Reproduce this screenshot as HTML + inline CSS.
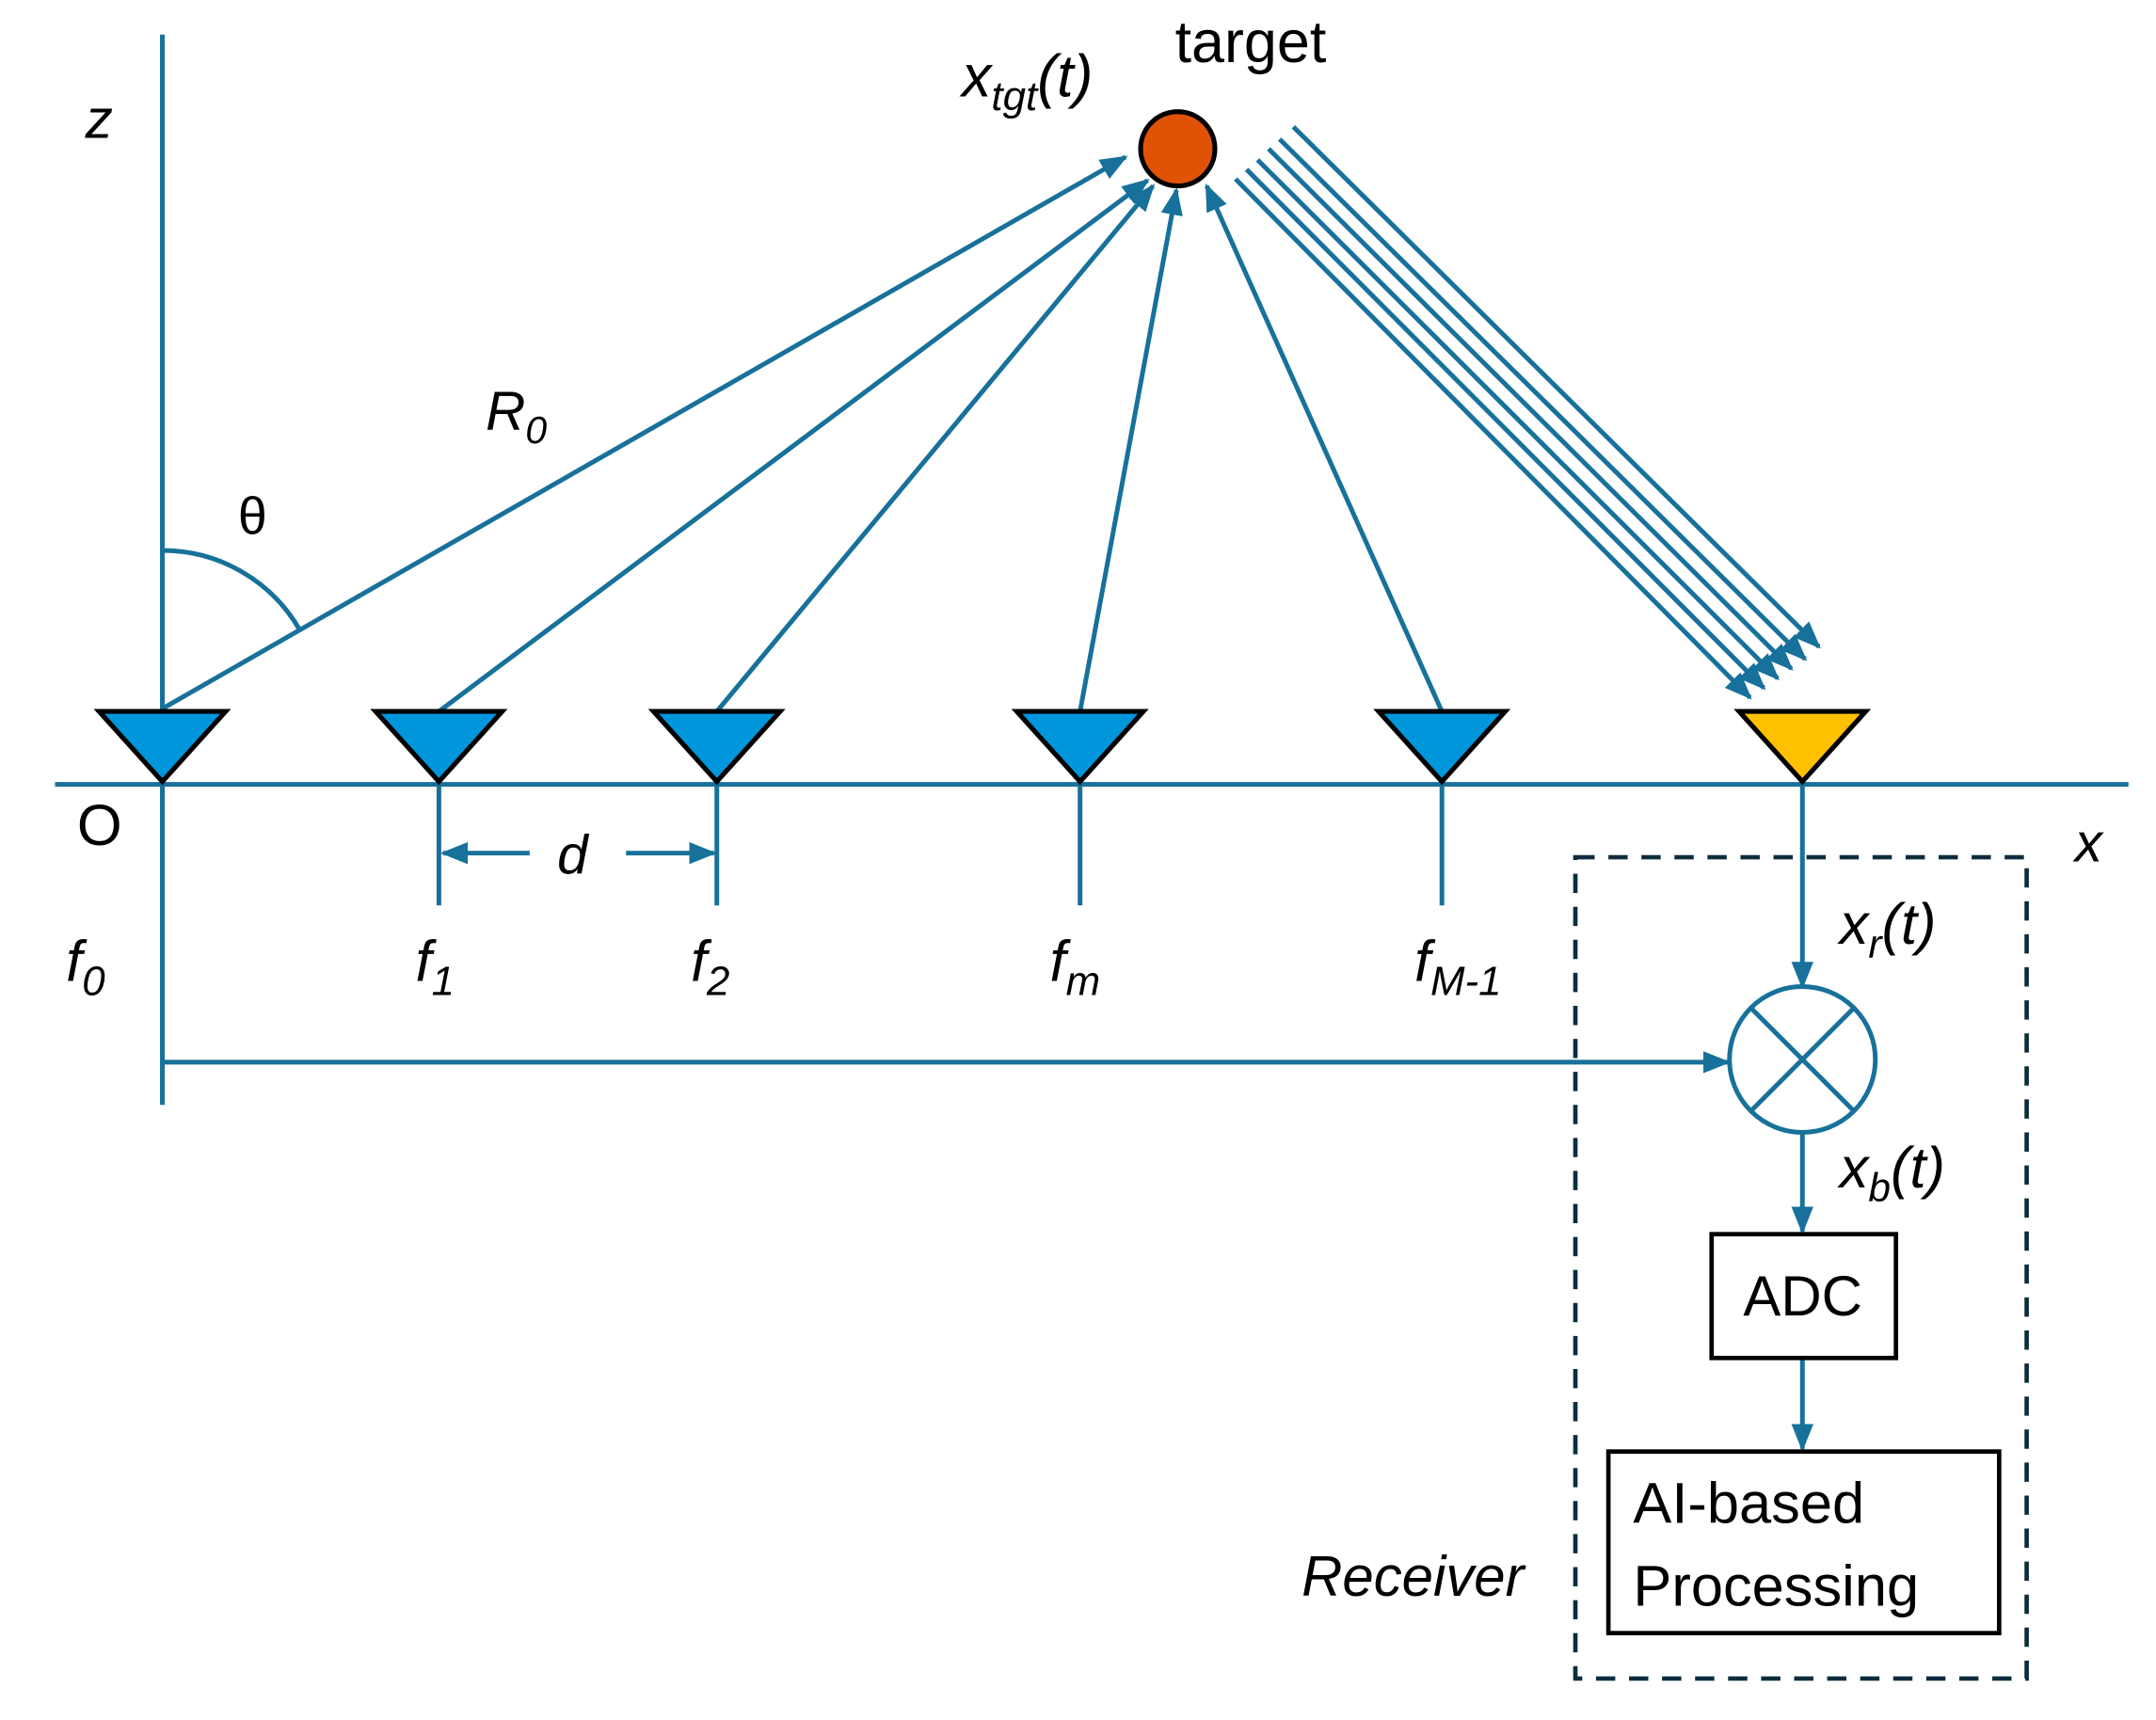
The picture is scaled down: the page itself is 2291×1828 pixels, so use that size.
<!DOCTYPE html>
<html><head><meta charset="utf-8"><style>
html,body{margin:0;padding:0;background:#fff;}
svg{display:block;}
text{font-family:"Liberation Sans",sans-serif;fill:#000;}
.i{font-style:italic;}
</style></head><body>
<svg width="2291" height="1828" viewBox="0 0 1567 1250" xmlns="http://www.w3.org/2000/svg">
<defs>
<marker id="a" markerUnits="userSpaceOnUse" markerWidth="20" markerHeight="16" refX="18" refY="8" orient="auto">
<path d="M0,0 L20,8 L0,16 z" fill="#17719a"/>
</marker>
</defs>
<g stroke="#17719a" stroke-width="3.4" fill="none">
<line x1="118" y1="25" x2="118" y2="803"/>
<line x1="40" y1="570" x2="1547" y2="570"/>
<path d="M118,400 A115,115 0 0 1 218,458"/>
<line x1="118" y1="515" x2="818" y2="114" marker-end="url(#a)"/>
<line x1="319" y1="517" x2="834" y2="131" marker-end="url(#a)"/>
<line x1="521" y1="517" x2="838" y2="135" marker-end="url(#a)"/>
<line x1="785" y1="517" x2="855" y2="138" marker-end="url(#a)"/>
<line x1="1048" y1="517" x2="877" y2="135" marker-end="url(#a)"/>
<line x1="898" y1="130" x2="1272" y2="507" marker-end="url(#a)"/>
<line x1="906" y1="123" x2="1282" y2="500" marker-end="url(#a)"/>
<line x1="914" y1="116" x2="1292" y2="493" marker-end="url(#a)"/>
<line x1="922" y1="108" x2="1302" y2="486" marker-end="url(#a)"/>
<line x1="930" y1="101" x2="1312" y2="479" marker-end="url(#a)"/>
<line x1="940" y1="92" x2="1322" y2="470" marker-end="url(#a)"/>
<line x1="319" y1="570" x2="319" y2="658"/>
<line x1="521" y1="570" x2="521" y2="658"/>
<line x1="785" y1="570" x2="785" y2="658"/>
<line x1="1048" y1="570" x2="1048" y2="658"/>
<line x1="385" y1="620" x2="322" y2="620" marker-end="url(#a)"/>
<line x1="455" y1="620" x2="519" y2="620" marker-end="url(#a)"/>
<line x1="1310" y1="570" x2="1310" y2="717" marker-end="url(#a)"/>
<line x1="118" y1="772" x2="1256" y2="772" marker-end="url(#a)"/>
<ellipse cx="1310" cy="770" rx="53" ry="53"/>
<line x1="1273" y1="733" x2="1347" y2="807"/>
<line x1="1347" y1="733" x2="1273" y2="807"/>
<line x1="1310" y1="823" x2="1310" y2="895" marker-end="url(#a)"/>
<line x1="1310" y1="987" x2="1310" y2="1053" marker-end="url(#a)"/>
</g>
<rect x="1145" y="623" width="328" height="597" fill="none" stroke="#0d2d3d" stroke-width="3.2" stroke-dasharray="14,10"/>
<rect x="1244" y="897" width="134" height="90" fill="#fff" stroke="#000" stroke-width="3.2"/>
<rect x="1169" y="1055" width="284" height="132" fill="#fff" stroke="#000" stroke-width="3.2"/>
<g stroke="#000" stroke-width="3.5" stroke-linejoin="miter">
<path d="M72,517 L164,517 L118,568 z" fill="#0096db"/>
<path d="M273,517 L365,517 L319,568 z" fill="#0096db"/>
<path d="M475,517 L567,517 L521,568 z" fill="#0096db"/>
<path d="M739,517 L831,517 L785,568 z" fill="#0096db"/>
<path d="M1002,517 L1094,517 L1048,568 z" fill="#0096db"/>
<path d="M1264,517 L1356,517 L1310,568 z" fill="#ffc000"/>
</g>
<circle cx="856" cy="108" r="27" fill="#e05206" stroke="#000" stroke-width="3.5"/>
<text x="854" y="45" font-size="43">target</text>
<text x="699" y="70" font-size="43" class="i">x<tspan font-size="30" dy="10">tgt</tspan><tspan dy="-10">(t)</tspan></text>
<text x="62" y="100" font-size="40" class="i">z</text>
<text x="173" y="388" font-size="38">θ</text>
<text x="353" y="312" font-size="40" class="i">R<tspan font-size="28" dy="10">0</tspan></text>
<text x="56" y="614" font-size="42">O</text>
<text x="1508" y="626" font-size="40" class="i">x</text>
<text x="405" y="635" font-size="40" class="i">d</text>
<text x="48" y="713" font-size="42" class="i">f<tspan font-size="30" dy="10">0</tspan></text>
<text x="302" y="713" font-size="42" class="i">f<tspan font-size="30" dy="10">1</tspan></text>
<text x="502" y="713" font-size="42" class="i">f<tspan font-size="30" dy="10">2</tspan></text>
<text x="763" y="713" font-size="42" class="i">f<tspan font-size="30" dy="10">m</tspan></text>
<text x="1028" y="713" font-size="42" class="i">f<tspan font-size="30" dy="10">M-1</tspan></text>
<text x="1337" y="686" font-size="42" class="i">x<tspan font-size="29" dy="10">r</tspan><tspan dy="-10">(t)</tspan></text>
<text x="1337" y="863" font-size="42" class="i">x<tspan font-size="29" dy="10">b</tspan><tspan dy="-10">(t)</tspan></text>
<text x="1267" y="956" font-size="41">ADC</text>
<text x="1187" y="1107" font-size="42">AI-based</text>
<text x="1187" y="1167" font-size="42">Processing</text>
<text x="946" y="1160" font-size="41" class="i">Receiver</text>
</svg>
</body></html>
